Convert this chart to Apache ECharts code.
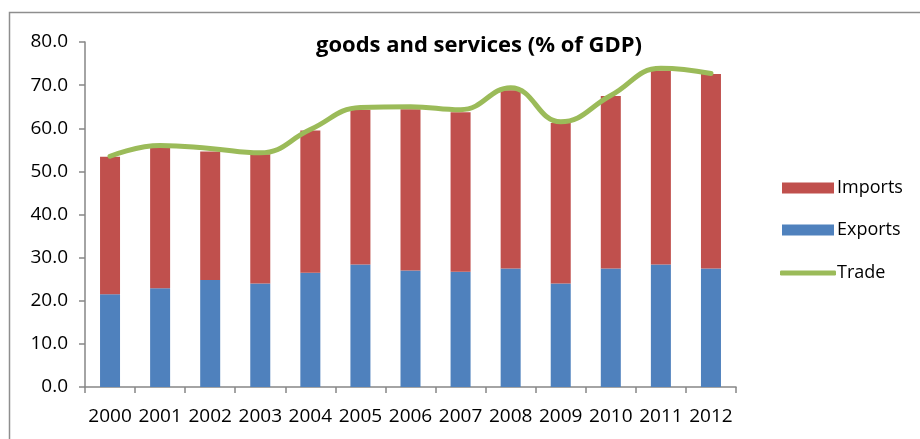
<!DOCTYPE html>
<html>
<head>
<meta charset="utf-8">
<script src="https://cdn.jsdelivr.net/npm/echarts@6/dist/echarts.min.js"></script>
<style>
  html, body { margin: 0; padding: 0; background: #fff; }
  #chart { width: 920px; height: 439px; }
</style>
</head>
<body>
<div id="chart"></div>
<script>
// Trade in goods and services, % of GDP
const years = ['2000','2001','2002','2003','2004','2005','2006','2007','2008','2009','2010','2011','2012'];
const exportsPct = [21.5, 22.9, 24.8, 24.0, 26.5, 28.4, 27.0, 26.7, 27.5, 24.0, 27.5, 28.4, 27.5];
const importsPct = [31.9, 32.7, 29.8, 30.0, 33.0, 35.9, 37.4, 37.0, 41.3, 37.2, 40.0, 45.0, 45.1];
const tradePct   = [53.5, 56.0, 55.3, 54.3, 59.7, 64.8, 65.0, 64.3, 69.4, 61.5, 67.6, 73.9, 72.7];
const yTicks = { min: 0, max: 80, interval: 10 };

const FONT = '"Open Sans", "Liberation Sans", sans-serif';
const AXIS_GRAY = '#868686';
const COLORS = { imports: '#C0504D', exports: '#4F81BD', trade: '#9BBB59' };

const chart = echarts.init(document.getElementById('chart'), null, { renderer: 'canvas' });

const legendText = { fontFamily: FONT, fontSize: 18, color: '#000', padding: [0, 0, 0, -2] };

chart.setOption({
  animation: false,
  backgroundColor: '#ffffff',
  textStyle: { fontFamily: FONT, color: '#000' },
  title: {
    text: 'goods and services (% of GDP)',
    left: 474,
    top: 30,
    textAlign: 'center',
    textStyle: { fontFamily: FONT, fontSize: 22, fontWeight: 'bold', color: '#000' }
  },
  graphic: [{
    type: 'rect',
    shape: { x: 9.5, y: 12.5, width: 1000, height: 1000 },
    style: { fill: 'none', stroke: '#8e8e8e', lineWidth: 1.5 },
    silent: true,
    z: -10
  }],
  legend: [
    {
      orient: 'vertical',
      left: 777,
      top: 174,
      itemWidth: 52,
      itemHeight: 11,
      itemGap: 24,
      textStyle: legendText,
      data: [
        { name: 'Imports', icon: 'rect' },
        { name: 'Exports', icon: 'rect' }
      ]
    },
    {
      orient: 'vertical',
      left: 775,
      top: 259,
      itemWidth: 56,
      itemHeight: 5,
      textStyle: { fontFamily: FONT, fontSize: 18, color: '#000', padding: [0, 0, 0, -4] },
      data: [
        { name: 'Trade', icon: 'roundRect', itemStyle: { color: COLORS.trade } }
      ]
    }
  ],
  grid: { left: 85, right: 184, top: 42, bottom: 52, containLabel: false },
  xAxis: {
    type: 'category',
    data: years,
    boundaryGap: true,
    axisLine: { lineStyle: { color: AXIS_GRAY, width: 1.5 } },
    axisTick: { show: true, length: 6, lineStyle: { color: AXIS_GRAY, width: 1.5 } },
    axisLabel: { fontFamily: FONT, fontSize: 19, color: '#000', margin: 20, interval: 0 },
    splitLine: { show: false }
  },
  yAxis: {
    type: 'value',
    min: yTicks.min,
    max: yTicks.max,
    interval: yTicks.interval,
    axisLine: { show: true, lineStyle: { color: AXIS_GRAY, width: 1.5 } },
    axisTick: { show: true, length: 6, lineStyle: { color: AXIS_GRAY, width: 1.5 } },
    axisLabel: {
      fontFamily: FONT, fontSize: 19, color: '#000', margin: 17,
      formatter: v => v.toFixed(1)
    },
    splitLine: { show: false }
  },
  series: [
    {
      name: 'Exports',
      type: 'bar',
      stack: 'total',
      barWidth: 20,
      data: exportsPct,
      itemStyle: { color: COLORS.exports }
    },
    {
      name: 'Imports',
      type: 'bar',
      stack: 'total',
      barWidth: 20,
      data: importsPct,
      itemStyle: { color: COLORS.imports }
    },
    {
      name: 'Trade',
      type: 'line',
      data: tradePct,
      smooth: 0.45,
      symbol: 'none',
      lineStyle: { color: COLORS.trade, width: 5, cap: 'round' },
      itemStyle: { color: COLORS.trade },
      z: 5
    }
  ]
});
</script>
</body>
</html>
